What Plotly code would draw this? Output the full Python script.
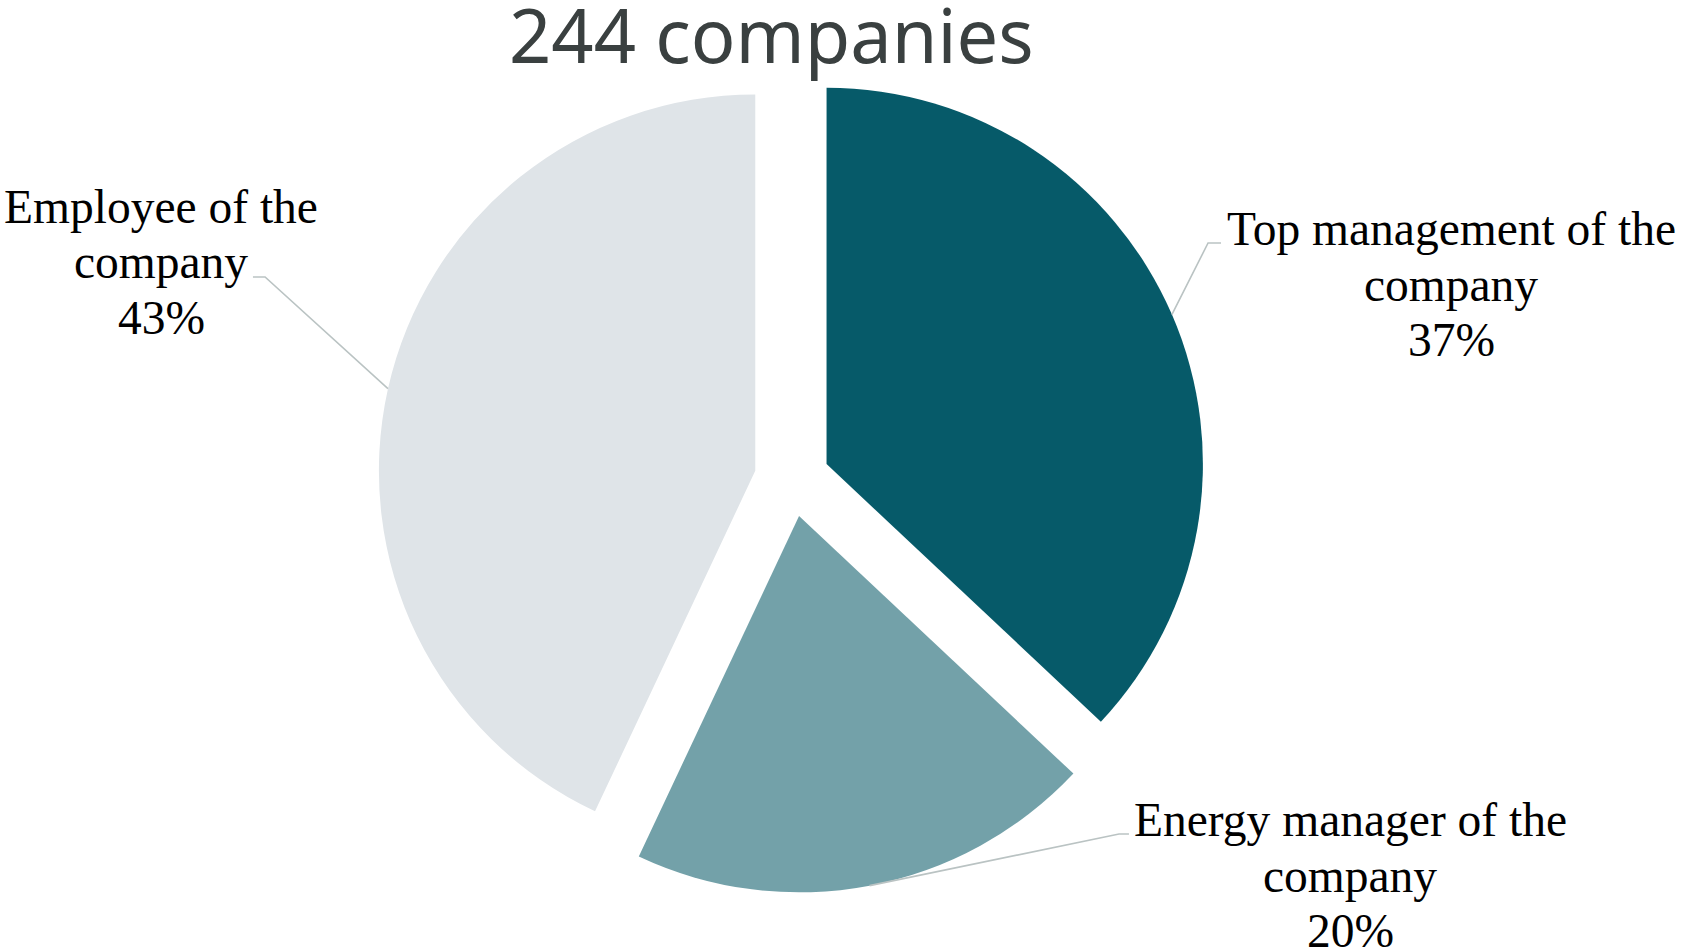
import math
import plotly.graph_objects as go

# Who is responsible for energy topics (share of 244 companies)
categories = ["Top management of the company", "Energy manager of the company", "Employee of the company"]
label_lines = [["Top management of the", "company"], ["Energy manager of the", "company"], ["Employee of the", "company"]]
shares = [37, 20, 43]
colors = ["#065A69", "#73A1A9", "#DFE4E8"]
title_text = "244 companies"

W, H = 1683, 947
PULL = 0.1

# Pie domain in pixels (centre and radius follow from it)
dom_x = (378, 1206)
dom_y = (65, 893)


def px(x):
    return x / W


def py(y):
    return 1 - y / H


fig = go.Figure(
    go.Pie(
        labels=categories,
        values=shares,
        sort=False,
        direction="clockwise",
        rotation=0,
        pull=[PULL] * len(shares),
        marker=dict(colors=colors, line=dict(width=0)),
        textinfo="none",
        hoverinfo="label+percent",
        showlegend=False,
        domain=dict(x=[px(dom_x[0]), px(dom_x[1])], y=[py(dom_y[1]), py(dom_y[0])]),
    )
)

# Geometry of the pie as plotly lays it out
cx = (dom_x[0] + dom_x[1]) / 2
cy = (dom_y[0] + dom_y[1]) / 2
r = min(dom_x[1] - dom_x[0], dom_y[1] - dom_y[0]) / (2 + 2 * PULL)

# Label anchors: text centre x, first line centre y, elbow point of leader, end of leader
label_pos = [
    dict(x=1451, y=229, elbow=(1208, 243), end=(1221, 243)),
    dict(x=1350, y=820, elbow=(1119, 834), end=(1129, 834)),
    dict(x=161, y=207, elbow=(265, 277), end=(253, 277)),
]
line_gap = 55.5

shapes = []
annotations = []
total = sum(shares)
cum = 0
for share, lines, pos in zip(shares, label_lines, label_pos):
    mid = (cum + share / 2) / total * 2 * math.pi
    cum += share
    dx, dy = math.sin(mid), -math.cos(mid)
    ox, oy = cx + PULL * r * dx, cy + PULL * r * dy
    sx, sy = ox + r * dx, oy + r * dy
    path = "M {:.4f} {:.4f} L {:.4f} {:.4f} L {:.4f} {:.4f}".format(
        px(sx), py(sy), px(pos["elbow"][0]), py(pos["elbow"][1]), px(pos["end"][0]), py(pos["end"][1])
    )
    shapes.append(dict(type="path", xref="paper", yref="paper", path=path,
                       line=dict(color="#BAC3C3", width=1.6)))
    texts = lines + ["{}%".format(share)]
    for i, t in enumerate(texts):
        annotations.append(dict(
            x=px(pos["x"]), y=py(pos["y"] + i * line_gap), xref="paper", yref="paper",
            text=t, showarrow=False, xanchor="center", yanchor="middle",
            font=dict(family="Liberation Serif, Times New Roman, serif", size=47.5, color="#000000"),
        ))

annotations.append(dict(
    x=px(771), y=py(35), xref="paper", yref="paper", text=title_text, showarrow=False,
    xanchor="center", yanchor="middle",
    font=dict(family="Noto Sans, Open Sans, sans-serif", size=74, color="#3A4040"),
))

fig.update_layout(
    width=W, height=H,
    margin=dict(l=0, r=0, t=0, b=0),
    paper_bgcolor="white", plot_bgcolor="white",
    shapes=shapes, annotations=annotations,
)

fig.write_html("out.html")
